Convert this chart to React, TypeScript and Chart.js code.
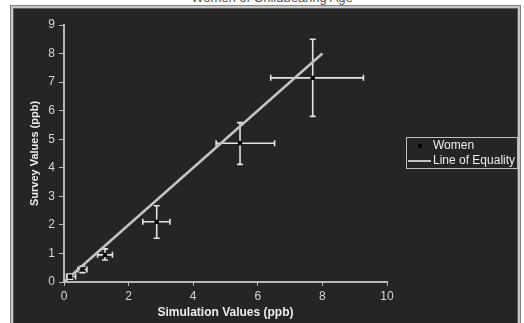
import React, { useEffect, useRef } from "react";
import { Chart, registerables } from "chart.js";

Chart.register(...registerables);

const chartTitle = "Women of Childbearing Age";
const xAxisTitle = "Simulation Values (ppb)";
const yAxisTitle = "Survey Values (ppb)";
const seriesWomen = "Women";
const seriesEquality = "Line of Equality";

// Women: simulation (x) vs survey (y) with error ranges
const simX = [7.7, 5.45, 2.87, 1.27, 0.57, 0.19];
const surveyY = [7.15, 4.86, 2.11, 0.95, 0.44, 0.19];
const xLow = [6.4, 4.71, 2.44, 1.04, 0.43, 0.08];
const xHigh = [9.27, 6.52, 3.28, 1.5, 0.71, 0.36];
const yLow = [5.8, 4.12, 1.53, 0.77, 0.33, 0.1];
const yHigh = [8.5, 5.58, 2.67, 1.16, 0.56, 0.28];

// Line of equality
const eqX = [0, 8];
const eqY = [0, 8];

const xMin = 0;
const xMax = 10;
const xStep = 2;
const yMin = 0;
const yMax = 9;
const yStep = 1;

const FONT = "'Liberation Sans', Arial, sans-serif";

const errorBarPlugin = {
  id: "errorBars",
  beforeDatasetsDraw(chart: any) {
    const { ctx, scales } = chart;
    const xs = scales.x;
    const ys = scales.y;
    ctx.save();
    ctx.strokeStyle = "#e4e4e4";
    ctx.lineWidth = 1.6;
    const cap = 3;
    for (let i = 0; i < simX.length; i++) {
      const px = xs.getPixelForValue(simX[i]);
      const py = ys.getPixelForValue(surveyY[i]);
      const x0 = xs.getPixelForValue(xLow[i]);
      const x1 = xs.getPixelForValue(xHigh[i]);
      const y0 = ys.getPixelForValue(yLow[i]);
      const y1 = ys.getPixelForValue(yHigh[i]);
      ctx.beginPath();
      ctx.moveTo(x0, py);
      ctx.lineTo(x1, py);
      ctx.moveTo(x0, py - cap);
      ctx.lineTo(x0, py + cap);
      ctx.moveTo(x1, py - cap);
      ctx.lineTo(x1, py + cap);
      ctx.moveTo(px, y0);
      ctx.lineTo(px, y1);
      ctx.moveTo(px - cap, y0);
      ctx.lineTo(px + cap, y0);
      ctx.moveTo(px - cap, y1);
      ctx.lineTo(px + cap, y1);
      ctx.stroke();
    }
    ctx.restore();
  },
};

const legendPlugin = {
  id: "boxLegend",
  afterDraw(chart: any) {
    const { ctx } = chart;
    const ds = chart.data.datasets;
    const bx = 406.5;
    const by = 137.5;
    const bw = 111;
    const bh = 31;
    ctx.save();
    ctx.strokeStyle = "#bdbdbd";
    ctx.lineWidth = 1;
    ctx.strokeRect(bx, by, bw, bh);
    ctx.font = `12px ${FONT}`;
    ctx.fillStyle = "#ececec";
    ctx.textBaseline = "middle";
    ctx.textAlign = "left";
    // item 1: marker
    ctx.fillStyle = "#000";
    ctx.fillRect(418, 144, 4, 4);
    ctx.fillStyle = "#ececec";
    ctx.fillText(ds[0].label, 433, 146);
    // item 2: line
    ctx.strokeStyle = "#c4c4c4";
    ctx.lineWidth = 2;
    ctx.beginPath();
    ctx.moveTo(408, 161);
    ctx.lineTo(431, 161);
    ctx.stroke();
    ctx.fillText(ds[1].label, 433, 161);
    ctx.restore();
  },
};

export default function App() {
  const canvasRef = useRef<HTMLCanvasElement | null>(null);

  useEffect(() => {
    const canvas = canvasRef.current;
    if (!canvas) return;
    const chart = new Chart(canvas, {
      type: "scatter",
      data: {
        datasets: [
          {
            label: seriesWomen,
            data: simX.map((v, i) => ({ x: v, y: surveyY[i] })),
            pointStyle: "rect",
            pointRadius: 2.3,
            backgroundColor: "#000",
            borderColor: "#000",
            borderWidth: 1,
          } as any,
          {
            label: seriesEquality,
            type: "line",
            data: eqX.map((v, i) => ({ x: v, y: eqY[i] })),
            borderColor: "#c4c4c4",
            borderWidth: 2.5,
            pointRadius: 0,
            showLine: true,
            fill: false,
          } as any,
        ],
      },
      options: {
        responsive: false,
        animation: false,
        layout: { padding: { left: 0, top: 25, right: 137, bottom: 0 } },
        plugins: {
          legend: { display: false },
          tooltip: { enabled: false },
          title: { display: false },
        },
        scales: {
          x: {
            type: "linear",
            min: xMin,
            max: xMax,
            ticks: {
              stepSize: xStep,
              color: "#d6d6d6",
              font: { family: FONT, size: 12 },
              padding: 3,
              maxRotation: 0,
            },
            grid: {
              drawOnChartArea: false,
              drawTicks: true,
              tickLength: 4,
              color: "#b8b8b8",
              lineWidth: 1,
            },
            border: { display: true, color: "#b8b8b8", width: 2 },
            title: {
              display: true,
              text: xAxisTitle,
              color: "#ececec",
              font: { family: FONT, size: 12, weight: "bold" },
              padding: { top: 0, bottom: 2.8 },
            },
            afterFit(scale: any) {
              scale.height = 41;
            },
          },
          y: {
            type: "linear",
            min: yMin,
            max: yMax,
            ticks: {
              stepSize: yStep,
              color: "#d6d6d6",
              font: { family: FONT, size: 12 },
              padding: 4,
            },
            grid: {
              drawOnChartArea: false,
              drawTicks: true,
              tickLength: 5,
              color: "#b8b8b8",
              lineWidth: 1,
            },
            border: { display: true, color: "#b8b8b8", width: 2 },
            title: {
              display: true,
              text: yAxisTitle,
              color: "#ececec",
              font: { family: FONT, size: 11, weight: "bold" },
              padding: { top: 28.4, bottom: 0 },
            },
            afterFit(scale: any) {
              scale.width = 64;
            },
          },
        },
      } as any,
      plugins: [errorBarPlugin, legendPlugin],
    });
    return () => chart.destroy();
  }, []);

  return (
    <div
      style={{
        position: "fixed",
        left: 0,
        top: 0,
        width: 524,
        height: 323,
        overflow: "hidden",
        background: "#ffffff",
      }}
    >
      <div
        style={{
          position: "absolute",
          left: 0,
          width: 544,
          top: -9,
          textAlign: "center",
          fontFamily: FONT,
          fontSize: 13,
          lineHeight: "13px",
          color: "#555",
          whiteSpace: "nowrap",
        }}
      >
        {chartTitle}
      </div>
      <div
        style={{
          position: "absolute",
          left: 10,
          top: 5,
          width: 511,
          height: 340,
          boxSizing: "border-box",
          border: "1px solid #7f7f7f",
          background: "#c6c6c6",
          padding: 2,
        }}
      >
        <div
          style={{
            width: "100%",
            height: "100%",
            boxSizing: "border-box",
            border: "1px solid #5e5e5e",
            background: "#252525",
          }}
        />
      </div>
      <canvas
        ref={canvasRef}
        width={524}
        height={323}
        style={{ position: "absolute", left: 0, top: 0, width: 524, height: 323 }}
      />
    </div>
  );
}
